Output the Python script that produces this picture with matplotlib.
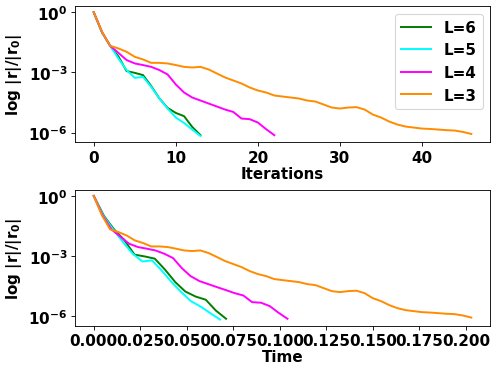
import matplotlib
matplotlib.use("Agg")
import matplotlib.pyplot as plt
import numpy as np

labels = ["L=6", "L=5", "L=4", "L=3"]
colors = ["green", "cyan", "magenta", "darkorange"]

# log10 of relative residual per iteration
res_L6 = [0, -1.0, -1.67, -2.2, -2.93, -3.02, -3.13, -3.68, -4.3, -4.77, -5.02, -5.18, -5.72, -6.13]
res_L5 = [0, -1.0, -1.67, -2.3, -2.88, -3.27, -3.22, -3.72, -4.3, -4.8, -5.25, -5.52, -5.85, -6.17]
res_L4 = [0, -0.97, -1.67, -2.02, -2.38, -2.55, -2.63, -2.72, -2.88, -3.1, -3.6, -4.0, -4.25, -4.4,
          -4.55, -4.7, -4.85, -4.97, -5.3, -5.33, -5.5, -5.83, -6.13]
res_L3 = [0, -0.97, -1.67, -1.8, -1.97, -2.22, -2.35, -2.52, -2.52, -2.55, -2.63, -2.72, -2.75, -2.72,
          -2.85, -3.05, -3.25, -3.4, -3.55, -3.75, -3.9, -4.0, -4.15, -4.2, -4.25, -4.3, -4.4, -4.45,
          -4.6, -4.75, -4.8, -4.75, -4.73, -4.85, -5.1, -5.25, -5.45, -5.6, -5.7, -5.75, -5.8, -5.82,
          -5.85, -5.88, -5.9, -5.97, -6.07]

time_L6 = [0, 0.0055, 0.0109, 0.0164, 0.0219, 0.0274, 0.0328, 0.0383, 0.0438, 0.0492, 0.0547, 0.0602, 0.0656, 0.0711]
time_L5 = [0, 0.0052, 0.0104, 0.0157, 0.0209, 0.0261, 0.0313, 0.0365, 0.0418, 0.0470, 0.0522, 0.0574, 0.0626, 0.0679]
time_L4 = [0, 0.0047, 0.0095, 0.0142, 0.0189, 0.0237, 0.0284, 0.0331, 0.0378, 0.0426, 0.0473, 0.0520,
           0.0568, 0.0615, 0.0662, 0.0710, 0.0757, 0.0804, 0.0851, 0.0899, 0.0946, 0.0993, 0.1041]
time_L3 = [0, 0.0044, 0.0088, 0.0132, 0.0176, 0.0221, 0.0265, 0.0309, 0.0353, 0.0397, 0.0441, 0.0485,
           0.0529, 0.0573, 0.0617, 0.0662, 0.0706, 0.0750, 0.0794, 0.0838, 0.0882, 0.0926, 0.0970,
           0.1014, 0.1058, 0.1103, 0.1147, 0.1191, 0.1235, 0.1279, 0.1323, 0.1367, 0.1411, 0.1455,
           0.1499, 0.1544, 0.1588, 0.1632, 0.1676, 0.1720, 0.1764, 0.1808, 0.1852, 0.1896, 0.1940,
           0.1985, 0.2029]

time_ticks = [0.0, 0.025, 0.05, 0.075, 0.1, 0.125, 0.15, 0.175, 0.2]
time_tick_labels = ['0.000', '0.025', '0.050', '0.075', '0.100', '0.125', '0.150', '0.175', '0.200']
iter_ticks = [0, 10, 20, 30, 40]

residuals = [res_L6, res_L5, res_L4, res_L3]
times = [time_L6, time_L5, time_L4, time_L3]

plt.rcParams['font.weight'] = 'bold'
plt.rcParams['axes.labelweight'] = 'bold'
plt.rcParams['font.size'] = 14

fig, (ax1, ax2) = plt.subplots(2, 1, figsize=(6.4, 4.82), dpi=78)
fig.subplots_adjust(left=0.150, right=0.982, top=0.981, bottom=0.131, hspace=0.35)

for r, t, lab, c in zip(residuals, times, labels, colors):
    y = 10.0 ** np.array(r)
    ax1.semilogy(np.arange(len(r)), y, color=c, label=lab, lw=1.8)
    ax2.semilogy(t, y, color=c, label=lab, lw=1.8)

for ax in (ax1, ax2):
    ax.set_ylabel(r'log |r|/|r$_\mathbf{0}$|')
    ax.set_yticks([1, 1e-3, 1e-6])
    ax.minorticks_off()

ax1.set_xlabel('Iterations', labelpad=1)
ax2.set_xlabel('Time', labelpad=1)
ax1.set_xticks(iter_ticks)
ax2.set_xticks(time_ticks)
ax2.set_xticklabels(time_tick_labels)
ax1.legend(loc='upper right')

fig.savefig('out.png', dpi=78)
